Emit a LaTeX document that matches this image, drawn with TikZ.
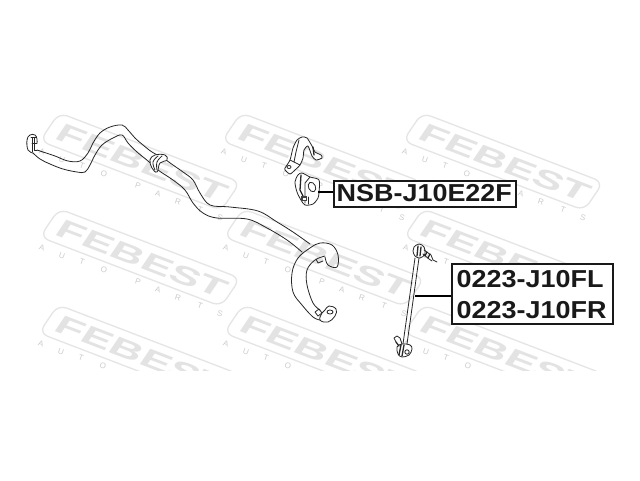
\documentclass[tikz,border=0pt]{standalone}
\usepackage{fontspec}
\setmainfont{Liberation Sans}
\newcommand{\codeword}[1]{\scalebox{1.1}[1]{\bfseries\fontsize{24.5}{24.5}\selectfont #1}}
\begin{document}
\begin{tikzpicture}[x=1pt,y=-1pt,
  ink/.style={draw=black!85,line width=0.8pt,line join=round,line cap=round},
  heavy/.style={draw=black!85,line width=1.3pt,line cap=round},
  part/.style={ink,fill=white},
  lead/.style={draw=black,line width=1.1pt},
  codebox/.style={draw=black!90,line width=1.5pt,inner sep=0pt,anchor=north west,fill=white},
  codetext/.style={text=black!90,anchor=base west,inner sep=0pt},
  wmline/.style={draw=black!10,line width=1.3pt,line join=round},
  wmword/.style={text=black!11,inner sep=0pt,anchor=base west,transform shape},
  wmletter/.style={text=black!20,inner sep=0pt,font=\fontsize{8}{8}\selectfont,rotate=-18}]
\useasboundingbox (0,0) rectangle (640,480);
\fill[white] (0,0) rectangle (640,480);

\begin{scope}
\clip (20,111) rectangle (605,370);
\foreach \ox/\oy in {40/141,222/141,403/141,40/237,224/237,404/237,39/333,224/333,404/333}{
  \begin{scope}[shift={(\ox,\oy)}]
    \begin{scope}[cm={.934,-.358,.56,.83,(0,0)}]
      \draw[wmline,rounded corners=9pt] (0,0) -- (0,-34) -- (194,-34) -- (194,0) -- cycle;
      \node[wmword] at (10,-7) {\scalebox{1.68}[1]{\bfseries\fontsize{27}{27}\selectfont FEBEST}};
    \end{scope}
    \foreach \lx/\ly/\lt in {2/11/A,22/19/U,42/25/T,64/33/O,98/45/P,118/53/A,138/61/R,160/69/T,180/77/S}{
      \node[wmletter] at (\lx,\ly) {\lt};
    }
  \end{scope}
}
\end{scope}

% stabiliser bar
\draw[ink] plot[smooth,tension=.6] coordinates {(37,150) (43,152) (55,156) (68,161) (80,161) (88,153) (93,143) (100,133) (110,127) (122,125) (128,130) (135,138) (143,145) (152,152) (163,158) (173,165) (183,172) (193,180) (200,193) (210,205) (230,207) (258,211) (277,222) (293,232) (310,244)};
\draw[ink] plot[smooth,tension=.6] coordinates {(33,153) (40,159) (50,164) (63,169) (77,172) (85,172) (90,165) (95,155) (102,145) (113,138) (122,135) (128,143) (137,152) (148,161) (158,170) (173,180) (185,190) (193,203) (203,213) (217,218) (247,219) (267,228) (287,240) (302,252)};
\draw[ink] plot[smooth,tension=.6] coordinates {(325,257) (328,265) (337,267) (338,255) (332,245) (320,243) (310,248) (298,258) (292,273) (293,292) (302,305) (313,317) (320,320)};
\draw[ink] plot[smooth,tension=.6] coordinates {(325,256) (315,260) (307,270) (307,285) (313,303) (320,310)};
\draw[ink] (316,259) -- (318,263) -- (323,261);
\draw[ink] (315,312) -- (319,309) -- (322,313) -- (318,316) -- cycle;
\draw[part] plot[smooth cycle,tension=.7] coordinates {(320,320) (328,322) (335,316) (336,309) (329,306) (325,310) (322,313)};
\draw[ink] (330,312) ellipse (3pt and 2pt);

% clamp on the bar
\draw[part] plot[smooth cycle,tension=.7] coordinates {(150,160) (155,155) (165,155) (167,160) (160,163) (157,172) (152,168)};
\draw[ink] plot[smooth,tension=.7] coordinates {(158,156) (153,162) (155,170)};
\draw[ink] plot[smooth,tension=.7] coordinates {(162,156) (157,162) (157,170)};

% left end
\draw[ink] plot[smooth,tension=.7] coordinates {(37,143) (37,139) (35,135) (30,135) (27,140) (28,150) (33,153)};
\draw[ink] (32,138) -- (32,152);
\draw[ink] (34,138) -- (34,150) -- (37,150);
\draw[ink] (31,137) -- (36,137);
\draw[ink] (32,143) -- (37,143);

% bracket
\draw[part] plot[smooth,tension=.4] coordinates {(285,168) (290,160) (293,148) (297,140) (302,137) (307,138) (312,146) (315,152) (321,155) (322,158) (316,160) (312,156) (308,146) (304,150) (303,158) (300,165) (295,170) (290,174) (285,170) (285,168)};
\draw[ink] (290,160) -- (300,165);
\draw[ink] (289,167) ellipse (2pt and 1.5pt);
\draw[ink] (299,140) -- (296,152) -- (294,162);
\draw[heavy] (313,147) -- (314,155);

% bushing
\draw[part] plot[smooth cycle,tension=.5] coordinates {(295,182) (298,175) (302,173) (310,177) (319,180) (319,192) (318,198) (313,204) (305,205) (301,200) (297,192)};
\draw[ink] (310,177) -- (305,183) -- (305,203);
\draw[heavy] (301,175) -- (300,190) -- (303,196);
\draw[ink,rotate around={25:(312,187)}] (312,187) ellipse (3.5pt and 5pt);
\fill[black!75] (301,196) rectangle (307,201);
\fill[white] (303,197.5) rectangle (305.5,199.5);
\draw[ink] (308,197) -- (308,204);

% link
\draw[ink] (415,258) -- (403,344);
\draw[ink] (419,258) -- (407,344);
\draw[part] plot[smooth cycle,tension=.6] coordinates {(414,247) (419,244) (424,247) (425,254) (420,258) (415,256) (413,251)};
\draw[heavy] (418,246) -- (417,256);
\draw[heavy] (421,247) -- (420,256);
\draw[ink] (424,250) -- (431,255) -- (433,260) -- (437,262);
\draw[ink] (423,254) -- (429,259) -- (432,261);
\draw[heavy] (427,252) -- (425,256);
\draw[heavy] (430,254) -- (428,258);
\draw[part] plot[smooth cycle,tension=.6] coordinates {(397,347) (402,344) (410,345) (412,349) (409,355) (402,357) (398,354)};
\draw[heavy] (401,345) -- (399,355);
\draw[heavy] (404,345) -- (402,356);
\draw[ink] (407,352) circle (2.2pt);
\draw[heavy] (399,346) -- (396,342);
\draw[ink] (396,342) -- (394,338) -- (397,336) -- (400,338) -- (402,344);

% labels
\coordinate (leadA) at (318,192);
\coordinate (leadB) at (415,296);
\node[codebox,minimum width=182pt,minimum height=26pt] (boxA) at (333,180) {};
\node[codetext] (textA) at (336.5,201.5) {\codeword{NSB-J10E22F}};
\node[codebox,minimum width=161pt,minimum height=60pt] (boxB) at (451,263) {};
\node[codetext] (textB) at (456.5,287) {\codeword{0223-J10FL}};
\node[codetext] (textC) at (456.5,318) {\codeword{0223-J10FR}};
\draw[lead] (leadA) -- (boxA.west |- leadA);
\draw[lead] (leadB) -- (boxB.west |- leadB);
\end{tikzpicture}
\end{document}
